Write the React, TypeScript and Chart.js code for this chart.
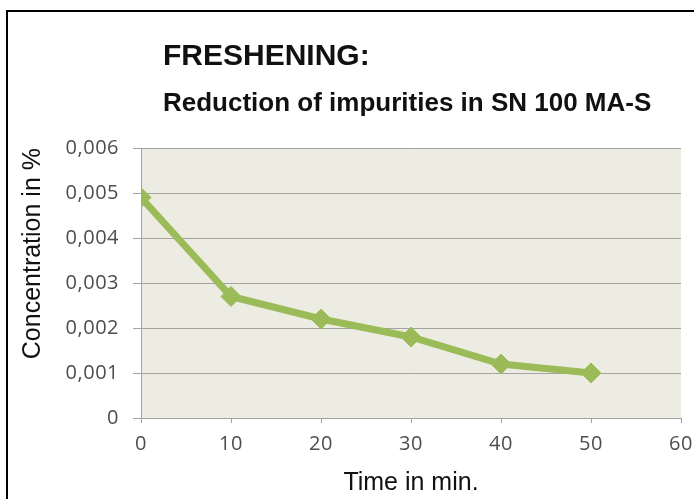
import React, { useEffect, useRef } from "react";
import { Chart, registerables } from "chart.js";

Chart.register(...registerables);

const TITLE = "FRESHENING:";
const SUBTITLE = "Reduction of impurities in SN 100 MA-S";
const X_TITLE = "Time in min.";
const Y_TITLE = "Concentration in %";

const timeMinutes = [0, 10, 20, 30, 40, 50];
const concentration = [0.0049, 0.0027, 0.0022, 0.0018, 0.0012, 0.001];

const xTickValues = [0, 10, 20, 30, 40, 50, 60];
const yTickLabels = ["0", "0,001", "0,002", "0,003", "0,004", "0,005", "0,006"];

const LINE_COLOR = "#9BBB59";
const PLOT_BG = "#ECECE2";
const GRID_COLOR = "#A3A3A3";
const TICK_COLOR = "#4D4D4D";

const plotBackground = {
  id: "plotBackground",
  beforeDraw(chart: any) {
    const { ctx, chartArea } = chart;
    ctx.save();
    (ctx as any).letterSpacing = "0px";
    ctx.fillStyle = PLOT_BG;
    ctx.fillRect(chartArea.left, chartArea.top, chartArea.right - chartArea.left, chartArea.bottom - chartArea.top);
    ctx.restore();
    (ctx as any).letterSpacing = "0px";
  },
  afterDatasetsDraw(chart: any) {
    (chart.ctx as any).letterSpacing = "0.5px";
  },
  afterDraw(chart: any) {
    const { ctx, chartArea } = chart;
    (ctx as any).letterSpacing = "0px";
    ctx.save();
    ctx.fillStyle = "#111111";
    ctx.textAlign = "left";
    ctx.textBaseline = "alphabetic";
    ctx.font = 'bold 30px "Liberation Sans", Arial, sans-serif';
    ctx.fillText(TITLE, chartArea.left + 22, 65);
    ctx.font = 'bold 26px "Liberation Sans", Arial, sans-serif';
    ctx.fillText(SUBTITLE, chartArea.left + 22, 111);
    ctx.restore();
  },
};

export default function App() {
  const ref = useRef<HTMLCanvasElement | null>(null);

  useEffect(() => {
    if (!ref.current) return;
    const chart = new Chart(ref.current, {
      type: "line",
      data: {
        datasets: [
          {
            data: timeMinutes.map((t, i) => ({ x: t, y: concentration[i] })),
            borderColor: LINE_COLOR,
            backgroundColor: LINE_COLOR,
            borderWidth: 7,
            pointStyle: "rectRot",
            pointRadius: 10,
            pointBackgroundColor: LINE_COLOR,
            pointBorderColor: LINE_COLOR,
            pointBorderWidth: 1,
            tension: 0,
            fill: false,
          },
        ],
      },
      options: {
        animation: false,
        responsive: false,
        devicePixelRatio: 1,
        layout: { padding: { top: 148, right: 13, bottom: 0, left: 0 } },
        plugins: {
          legend: { display: false },
          tooltip: { enabled: false },
          title: { display: false },
        },
        scales: {
          x: {
            type: "linear",
            min: 0,
            max: 60,
            afterBuildTicks: (scale: any) => {
              scale.ticks = xTickValues.map((v) => ({ value: v }));
            },
            afterFit: (scale: any) => {
              scale.height = 81;
              scale.paddingLeft = 0;
              scale.paddingRight = 0;
            },
            ticks: {
              padding: 9,
              color: TICK_COLOR,
              font: { family: '"Open Sans", sans-serif', size: 20 },
              z: 1,
              callback: (v: any) => String(v),
            },
            grid: {
              drawOnChartArea: false,
              drawTicks: true,
              tickLength: 5,
              color: GRID_COLOR,
              lineWidth: 1,
            },
            border: { display: true, color: GRID_COLOR, width: 1 },
            title: {
              display: true,
              text: X_TITLE,
              color: "#111111",
              font: { family: '"Liberation Sans", Arial, sans-serif', size: 25 },
              padding: { top: 0, bottom: 1 },
            },
          },
          y: {
            type: "linear",
            min: 0,
            max: 0.006,
            afterBuildTicks: (scale: any) => {
              scale.ticks = yTickLabels.map((_, i) => ({ value: i * 0.001 }));
            },
            afterFit: (scale: any) => {
              scale.width = 141;
              scale.paddingTop = 0;
              scale.paddingBottom = 0;
            },
            ticks: {
              padding: 14,
              color: TICK_COLOR,
              font: { family: '"Open Sans", sans-serif', size: 20 },
              z: 1,
              callback: (_v: any, i: number) => yTickLabels[i],
            },
            grid: {
              drawOnChartArea: true,
              drawTicks: true,
              tickLength: 8,
              color: GRID_COLOR,
              lineWidth: 1,
            },
            border: { display: true, color: GRID_COLOR, width: 1 },
            title: {
              display: true,
              text: Y_TITLE,
              align: "end",
              color: "#111111",
              font: { family: '"Liberation Sans", Arial, sans-serif', size: 25 },
              padding: { top: 18, bottom: 0 },
            },
          },
        },
      },
      plugins: [plotBackground],
    } as any);
    return () => chart.destroy();
  }, []);

  return (
    <div style={{ position: "fixed", left: 0, top: 0, width: 694, height: 499, background: "#ffffff" }}>
      <div
        style={{
          position: "absolute",
          left: 6,
          top: 10,
          width: 694 - 6,
          height: 499 - 10,
          borderTop: "2px solid #000",
          borderLeft: "2px solid #000",
          boxSizing: "border-box",
        }}
      />
      <canvas ref={ref} width={694} height={499} style={{ position: "absolute", left: 0, top: 0, width: 694, height: 499 }} />
    </div>
  );
}
